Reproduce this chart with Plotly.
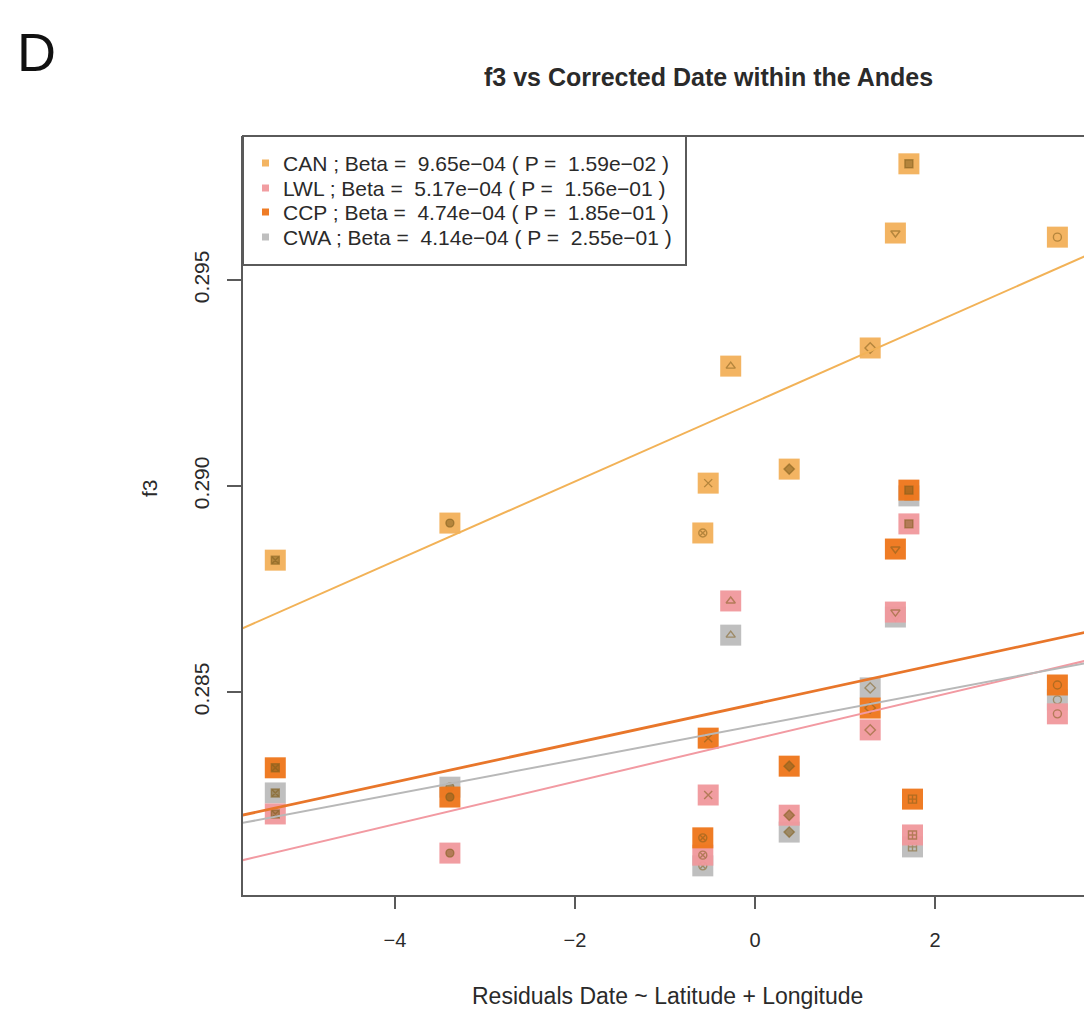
import plotly.graph_objects as go

# ---------------- data ----------------
POPULATIONS = ["CAN", "LWL", "CCP", "CWA"]
BETA = [9.65e-04, 5.17e-04, 4.74e-04, 4.14e-04]
PVAL = [1.59e-02, 1.56e-01, 1.85e-01, 2.55e-01]
INTERCEPT = [0.29204, 0.28386, 0.28471, 0.28418]

# residual date of each test sample (x)
SAMPLE_X = [-5.33, -3.39, -0.52, -0.58, -0.27, 0.38, 1.28, 1.56, 1.71, 1.75, 3.36]

# f3 values per population for each sample (None = hidden / not visible)
F3_CAN = [0.28820, 0.28910, 0.29007, 0.28886, 0.29291, 0.29041, 0.29335, 0.29614, 0.29782, None, 0.29604]
F3_LWL = [0.28204, 0.28109, 0.28250, 0.28104, 0.28721, 0.28201, 0.28408, 0.28694, 0.28908, 0.28153, 0.28447]
F3_CCP = [0.28316, 0.28245, 0.28388, 0.28146, None, 0.28320, 0.28461, 0.28847, 0.28990, 0.28240, 0.28517]
F3_CWA = [0.28255, 0.28269, None, 0.28078, 0.28638, 0.28160, 0.28510, 0.28682, 0.28976, 0.28124, 0.28481]

X_TICKS = [-4, -2, 0, 2, 4]
Y_TICKS = [0.285, 0.290, 0.295]
Y_TICK_TEXT = ["0.285", "0.290", "0.295"]

TITLE = "f3 vs Corrected Date within the Andes"
X_TITLE = "Residuals Date ~ Latitude + Longitude"
Y_TITLE = "f3"
PANEL = "D"

# ---------------- styles ----------------
SQ_COLORS = {"CAN": "rgba(242,176,90,0.95)", "LWL": "rgba(240,152,156,0.95)",
             "CCP": "rgba(238,120,30,0.97)", "CWA": "rgba(188,188,188,0.95)"}
LINE_COLORS = {"CAN": "#F2B257", "LWL": "#F29AA2", "CCP": "#E8762A", "CWA": "#B8B8B8"}
LINE_WIDTHS = {"CAN": 2, "LWL": 2, "CCP": 2.8, "CWA": 2}
SAMPLE_SYMBOLS = ["square-x", "circle", "x-thin-open", "circle-x-open", "triangle-up-open",
                  "diamond", "diamond-open", "triangle-down-open", "square", "square-cross-open",
                  "circle-open"]
INNER_COLOR = "rgba(130,95,30,0.55)"
DRAW_ORDER = ["CWA", "LWL", "CAN", "CCP"]

W, H = 1084, 1010
L, R, T, B = 243, 1084, 136, 895
X_RANGE = [(L - 755) / 90.0, (R - 755) / 90.0]
Y_RANGE = [0.295 - (B - 280) / 41200.0, 0.295 + (280 - T) / 41200.0]

FONT = "Liberation Sans, Arial, sans-serif"
TXT = "#2a2a2a"
AX = "#5a5a5a"

def px(xp):
    return (xp - L) / (R - L)

def py(yp):
    return (B - yp) / (B - T)

series = {"CAN": F3_CAN, "LWL": F3_LWL, "CCP": F3_CCP, "CWA": F3_CWA}

fig = go.Figure()

for pop in DRAW_ORDER:
    ys = series[pop]
    xs = [x for x, y in zip(SAMPLE_X, ys) if y is not None]
    yv = [y for y in ys if y is not None]
    sy = [s for s, y in zip(SAMPLE_SYMBOLS, ys) if y is not None]
    fig.add_trace(go.Scatter(x=xs, y=yv, mode="markers", name=pop, showlegend=False,
                             marker=dict(symbol="square", size=21, color=SQ_COLORS[pop],
                                         line=dict(width=0)), hoverinfo="skip"))
    fig.add_trace(go.Scatter(x=xs, y=yv, mode="markers", showlegend=False,
                             marker=dict(symbol=sy, size=8, color=INNER_COLOR,
                                         line=dict(width=1.4, color=INNER_COLOR)),
                             hoverinfo="skip"))

# regression lines (abline)
for pop, a, b in zip(POPULATIONS, INTERCEPT, BETA):
    xl = [X_RANGE[0] - 1, X_RANGE[1] + 1]
    fig.add_trace(go.Scatter(x=xl, y=[a + b * v for v in xl], mode="lines", showlegend=False,
                             line=dict(color=LINE_COLORS[pop], width=LINE_WIDTHS[pop]),
                             hoverinfo="skip"))

shapes = []
annotations = []

# top frame line (plot is cropped on the right)
shapes.append(dict(type="line", xref="paper", yref="paper", x0=0, x1=1, y0=1, y1=1,
                   line=dict(color=AX, width=2)))

# legend box
shapes.append(dict(type="rect", xref="paper", yref="paper", x0=0, x1=px(686), y0=py(265), y1=1,
                   line=dict(color=AX, width=2), fillcolor="white"))
rows = [163, 188, 212, 237]
for pop, beta, p, yr in zip(POPULATIONS, BETA, PVAL, rows):
    shapes.append(dict(type="rect", xref="paper", yref="paper",
                       x0=px(262), x1=px(269), y0=py(yr + 3.5), y1=py(yr - 3.5),
                       line=dict(width=0), fillcolor=SQ_COLORS[pop]))
    b_txt = f"{beta:.2e}".replace("-", "\u2212")
    p_txt = f"{p:.2e}".replace("-", "\u2212")
    annotations.append(dict(xref="paper", yref="paper", x=px(281), y=py(yr), xanchor="left",
                            yanchor="middle", showarrow=False,
                            text=f"{pop} ; Beta =  {b_txt} ( P =  {p_txt} )",
                            font=dict(family=FONT, size=21, color=TXT)))

annotations.append(dict(xref="paper", yref="paper", x=px(708), y=py(77), xanchor="center",
                        yanchor="middle", showarrow=False, text=f"<b>{TITLE}</b>",
                        font=dict(family=FONT, size=25, color=TXT)))
annotations.append(dict(xref="paper", yref="paper", x=px(667), y=py(996), xanchor="center",
                        yanchor="middle", showarrow=False, text=X_TITLE,
                        font=dict(family=FONT, size=23, color=TXT)))
annotations.append(dict(xref="paper", yref="paper", x=px(150), y=py(488), xanchor="center",
                        yanchor="middle", showarrow=False, text=Y_TITLE, textangle=-90,
                        font=dict(family=FONT, size=21, color=TXT)))
annotations.append(dict(xref="paper", yref="paper", x=px(36), y=py(52), xanchor="center",
                        yanchor="middle", showarrow=False, text=PANEL,
                        font=dict(family=FONT, size=54, color="#111")))

fig.update_layout(
    width=W, height=H, margin=dict(l=L, r=W - R, t=T, b=H - B),
    paper_bgcolor="white", plot_bgcolor="white", showlegend=False,
    shapes=shapes, annotations=annotations,
    xaxis=dict(range=X_RANGE, tickvals=X_TICKS, showgrid=False, zeroline=False,
               showline=True, linecolor=AX, linewidth=2, ticks="outside", ticklen=12,
               tickwidth=2, tickcolor=AX, ticklabelstandoff=14,
               tickfont=dict(family=FONT, size=20, color=TXT)),
    yaxis=dict(range=Y_RANGE, tickvals=Y_TICKS, ticktext=Y_TICK_TEXT, showgrid=False,
               zeroline=False, showline=True, linecolor=AX, linewidth=2, ticks="outside",
               ticklen=14, tickwidth=2, tickcolor=AX, tickangle=-90, ticklabelstandoff=10,
               tickfont=dict(family=FONT, size=21, color=TXT)),
)

fig.write_html("out.html")
